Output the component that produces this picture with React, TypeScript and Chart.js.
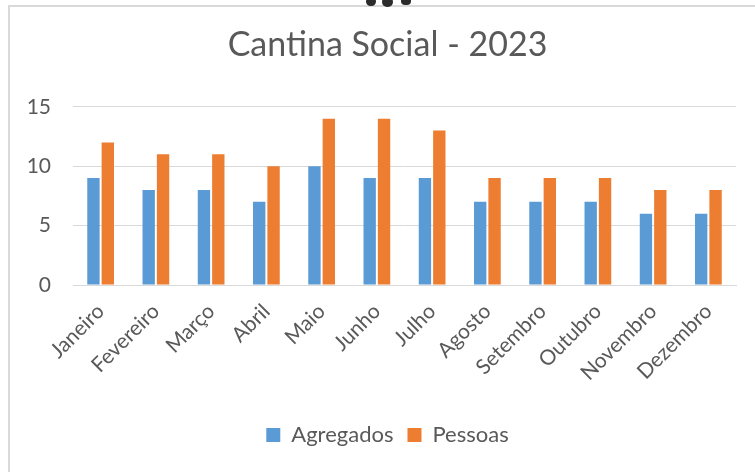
import React, { useEffect, useRef } from "react";
import { Chart, registerables } from "chart.js";

Chart.register(...registerables);

const months = ["Janeiro", "Fevereiro", "Março", "Abril", "Maio", "Junho", "Julho", "Agosto", "Setembro", "Outubro", "Novembro", "Dezembro"];
const agregados = [9, 8, 8, 7, 10, 9, 9, 7, 7, 7, 6, 6];
const pessoas = [12, 11, 11, 10, 14, 14, 13, 9, 9, 9, 8, 8];
const yTicks = [0, 5, 10, 15];

const FONT = "Lato, 'Open Sans', sans-serif";
const TEXT = "#595959";

export default function App() {
  const ref = useRef<HTMLCanvasElement | null>(null);
  useEffect(() => {
    if (!ref.current) return;
    const chart = new Chart(ref.current, {
      type: "bar",
      data: {
        labels: months,
        datasets: [
          { label: "Agregados", data: agregados, backgroundColor: "#5B9BD5", categoryPercentage: 0.52, barPercentage: 0.86 },
          { label: "Pessoas", data: pessoas, backgroundColor: "#ED7D31", categoryPercentage: 0.52, barPercentage: 0.86 },
        ],
      },
      options: {
        animation: false,
        responsive: false,
        maintainAspectRatio: false,
        layout: { padding: { left: 0, right: 0, top: 0, bottom: 16 } },
        plugins: {
          title: {
            display: true,
            text: "Cantina Social - 2023",
            color: TEXT,
            font: { family: FONT, size: 34, weight: "normal" },
            padding: { top: 18, bottom: 41 },
          },
          legend: {
            position: "bottom",
            labels: {
              color: TEXT,
              font: { family: FONT, size: 22 },
              boxWidth: 14,
              boxHeight: 14,
              padding: 14,
            },
          },
          tooltip: { enabled: false },
        },
        scales: {
          x: {
            grid: { display: false },
            border: { color: "#D9D9D9", width: 1 },
            ticks: {
              color: TEXT,
              font: { family: FONT, size: 21 },
              minRotation: 45,
              maxRotation: 45,
              autoSkip: false,
              padding: 6,
            },
            afterFit: (s: any) => { s.height = 125; },
          },
          y: {
            min: 0,
            max: 15,
            afterBuildTicks: (s: any) => { s.ticks = yTicks.map((v) => ({ value: v })); },
            grid: { color: "#D9D9D9", lineWidth: 1, drawTicks: false },
            border: { display: false },
            ticks: {
              color: TEXT,
              font: { family: FONT, size: 21 },
              padding: 22,
            },
            afterFit: (s: any) => { s.width = 63; },
          },
          yRight: {
            position: "right",
            min: 0,
            max: 15,
            grid: { display: false, drawTicks: false },
            border: { display: false },
            ticks: { display: false },
            afterFit: (s: any) => { s.width = 29; },
          },
        },
      },
    });
    return () => chart.destroy();
  }, []);

  return (
    <div style={{ position: "fixed", left: 0, top: 0, width: 755, height: 472, overflow: "hidden", background: "#fff" }}>
      <div style={{ position: "absolute", left: 8, top: 5, width: 800, height: 500, borderLeft: "2px solid #D9D9D9", borderTop: "2px solid #D9D9D9" }} />
      <div style={{ position: "absolute", left: 366, top: -3, width: 10, height: 9, borderRadius: 5, background: "#2b2b2b" }} />
      <div style={{ position: "absolute", left: 382, top: -3, width: 11, height: 10, borderRadius: 5, background: "#2b2b2b" }} />
      <div style={{ position: "absolute", left: 401, top: -3, width: 10, height: 8, borderRadius: 5, background: "#2b2b2b" }} />
      <canvas ref={ref} width={755} height={465} style={{ position: "absolute", left: 10, top: 7, width: 755, height: 465 }} />
    </div>
  );
}
